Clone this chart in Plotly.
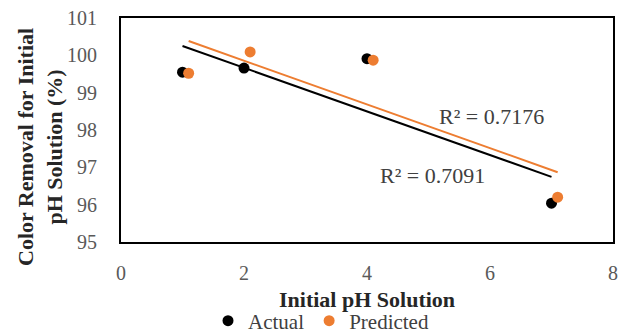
import numpy as np
import plotly.graph_objects as go

ph_actual = [1, 2, 4, 7]
removal_actual = [99.55, 99.66, 99.91, 96.04]
ph_predicted = [1.1, 2.1, 4.1, 7.1]
removal_predicted = [99.52, 100.09, 99.87, 96.20]
r2_actual = "R² = 0.7091"
r2_predicted = "R² = 0.7176"
x_title = "Initial pH Solution"
y_title = "Color Removal for Initial<br>pH Solution (%)"

FONT = "Liberation Serif, Times New Roman, Times, DejaVu Serif, serif"
BLACK = "#000000"
ORANGE = "#ED7D31"

def fit(x, y):
    m, b = np.polyfit(x, y, 1)
    xs = [min(x), max(x)]
    return xs, [m * v + b for v in xs]

fig = go.Figure()
fx, fy = fit(ph_actual, removal_actual)
fig.add_trace(go.Scatter(x=fx, y=fy, mode="lines", line=dict(color=BLACK, width=2), showlegend=False, hoverinfo="skip"))
fx2, fy2 = fit(ph_predicted, removal_predicted)
fig.add_trace(go.Scatter(x=fx2, y=fy2, mode="lines", line=dict(color=ORANGE, width=2), showlegend=False, hoverinfo="skip"))
fig.add_trace(go.Scatter(x=ph_actual, y=removal_actual, mode="markers", name="Actual",
                         marker=dict(color=BLACK, size=11)))
fig.add_trace(go.Scatter(x=ph_predicted, y=removal_predicted, mode="markers", name="Predicted",
                         marker=dict(color=ORANGE, size=11)))

fig.add_annotation(x=6.03, y=98.35, text=r2_predicted, showarrow=False,
                   font=dict(family=FONT, size=22, color="#404040"))
fig.add_annotation(x=5.07, y=96.77, text=r2_actual, showarrow=False,
                   font=dict(family=FONT, size=22, color="#404040"))

# axis titles
fig.add_annotation(xref="paper", yref="paper", x=(367 - 121) / 492, y=(242 - 299) / 224,
                   text="<b>" + x_title + "</b>", showarrow=False, xanchor="center", yanchor="middle",
                   font=dict(family=FONT, size=22, color="#262626"))
fig.add_annotation(xref="paper", yref="paper", x=(40 - 121) / 492, y=(242 - 147) / 224,
                   text="<b>" + y_title + "</b>", showarrow=False, xanchor="center", yanchor="middle",
                   textangle=-90,
                   font=dict(family=FONT, size=22, color="#262626"))

fig.update_layout(
    width=628, height=336,
    margin=dict(l=121, r=15, t=18, b=94, autoexpand=False),
    paper_bgcolor="white", plot_bgcolor="white",
    font=dict(family=FONT, color="#595959"),
    showlegend=True,
    legend=dict(orientation="h", x=(321 - 121) / 492, xanchor="center", y=(242 - 321) / 224, yanchor="middle",
                font=dict(family=FONT, size=21, color="#404040"),
                itemwidth=30, tracegroupgap=0, bgcolor="rgba(0,0,0,0)"),
)
fig.update_xaxes(range=[0, 8], dtick=2, showgrid=False, zeroline=False, automargin=False,
                 showline=True, linecolor=BLACK, linewidth=2, mirror=True,
                 ticks="", ticklabelstandoff=12,
                 tickfont=dict(family=FONT, size=20, color="#595959"))
fig.update_yaxes(range=[95, 101], dtick=1, showgrid=False, zeroline=False, automargin=False,
                 showline=True, linecolor=BLACK, linewidth=2, mirror=True,
                 ticks="", ticklabelstandoff=18,
                 tickfont=dict(family=FONT, size=20, color="#595959"))

fig.write_html("out.html", config={"displayModeBar": False},
               post_script="document.body.style.margin='0';")
